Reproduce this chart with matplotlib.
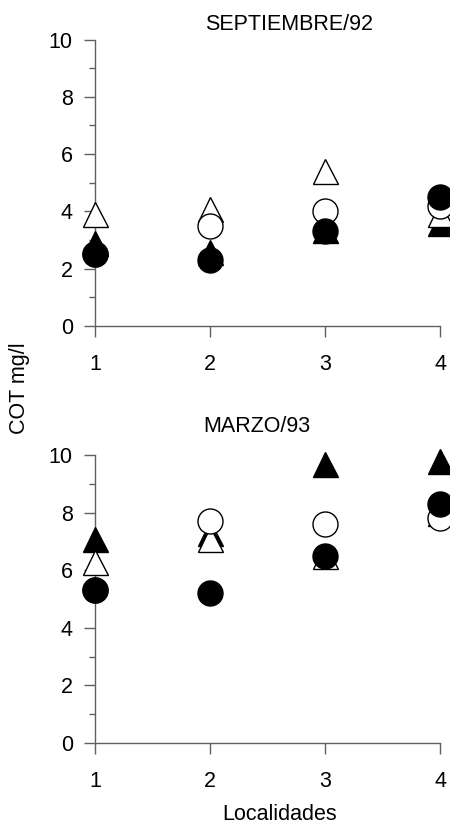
import matplotlib
matplotlib.use("Agg")
import matplotlib.pyplot as plt
from matplotlib.ticker import MultipleLocator

plt.rcParams['font.family'] = ['Liberation Sans', 'DejaVu Sans']

localidades = [1, 2, 3, 4]
x_ticklabels = ["1", "2", "3", "4"]

# SEPTIEMBRE/92
sep_filled_circle = [2.5, 2.3, 3.3, 4.5]
sep_open_circle = [2.5, 3.5, 4.0, 4.2]
sep_filled_triangle = [2.9, 2.6, 3.35, 3.6]
sep_open_triangle = [3.9, 4.1, 5.4, 3.9]

# MARZO/93
mar_filled_circle = [5.3, 5.2, 6.5, 8.3]
mar_open_circle = [5.3, 7.7, 7.6, 7.8]
mar_filled_triangle = [7.1, 7.3, 9.7, 9.8]
mar_open_triangle = [6.3, 7.1, 6.5, 8.0]

W, H = 450, 827
fig = plt.figure(figsize=(W / 100, H / 100), dpi=100)

def px_box(x0, x1, ytop, ybot):
    return [x0 / W, 1 - ybot / H, (x1 - x0) / W, (ybot - ytop) / H]

ax1 = fig.add_axes(px_box(95, 440, 39.5, 326))
ax2 = fig.add_axes(px_box(95, 440, 455, 743))

spine_col = '#606060'
ms = 18

def draw(ax, fc, oc, ft, ot):
    ax.plot(localidades, ft, linestyle='none', marker='^', ms=ms, mfc='black', mec='black', mew=1, clip_on=False, zorder=3)
    ax.plot(localidades, ot, linestyle='none', marker='^', ms=ms, mfc='white', mec='black', mew=1, clip_on=False, zorder=4)
    ax.plot(localidades, oc, linestyle='none', marker='o', ms=ms, mfc='white', mec='black', mew=1, clip_on=False, zorder=5)
    ax.plot(localidades, fc, linestyle='none', marker='o', ms=ms, mfc='black', mec='black', mew=1, clip_on=False, zorder=6)
    ax.set_xlim(1, 4)
    ax.set_ylim(0, 10)
    ax.set_xticks(localidades)
    ax.set_xticklabels(x_ticklabels)
    ax.yaxis.set_major_locator(MultipleLocator(2))
    ax.yaxis.set_minor_locator(MultipleLocator(1))
    for s in ['top', 'right']:
        ax.spines[s].set_visible(False)
    for s in ['left', 'bottom']:
        ax.spines[s].set_color(spine_col)
        ax.spines[s].set_linewidth(1)
    ax.tick_params(axis='both', which='major', length=8, width=1, color=spine_col, labelsize=15.5)
    ax.tick_params(axis='y', which='minor', length=4, width=1, color=spine_col)
    ax.tick_params(axis='y', which='major', pad=8)
    ax.tick_params(axis='x', which='major', pad=12)
    ax.set_facecolor('none')

draw(ax1, sep_filled_circle, sep_open_circle, sep_filled_triangle, sep_open_triangle)
draw(ax2, mar_filled_circle, mar_open_circle, mar_filled_triangle, mar_open_triangle)

fig.text(289 / W, 1 - 24 / H, "SEPTIEMBRE/92", ha='center', va='center', fontsize=15.5)
fig.text(257 / W, 1 - 427 / H, "MARZO/93", ha='center', va='center', fontsize=15.5)
fig.text(280 / W, 1 - 815 / H, "Localidades", ha='center', va='center', fontsize=15.5)
fig.text(20 / W, 1 - 388 / H, "COT mg/l", ha='center', va='center', rotation=90, fontsize=15.5)

fig.savefig("out.png", dpi=100)
